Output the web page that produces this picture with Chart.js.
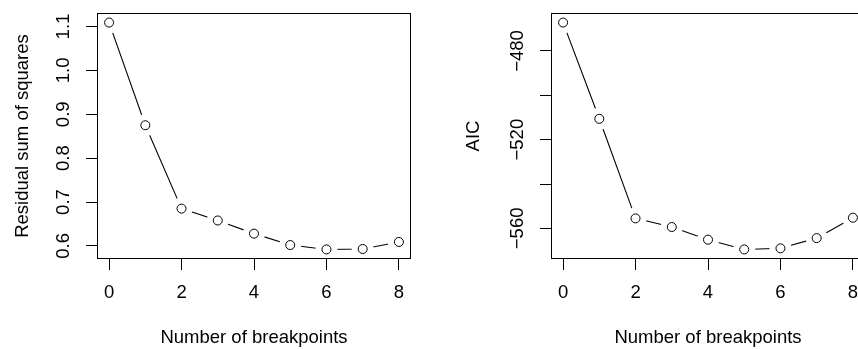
<!DOCTYPE html>
<html><head><meta charset="utf-8">
<script src="https://cdn.jsdelivr.net/npm/chart.js@4.4.1/dist/chart.umd.min.js"></script>
<style>
html,body{margin:0;padding:0;background:#fff;overflow:hidden;width:858px;height:349px}
.p{position:absolute;top:0}
</style></head><body>
<div class="p" style="left:0"><canvas id="c1" width="429" height="349"></canvas></div>
<div class="p" style="left:429px"><canvas id="c2" width="455" height="349"></canvas></div>
<script>
// ---- data ----
const breakpoints = [0, 1, 2, 3, 4, 5, 6, 7, 8];
const rss = [1.109, 0.875, 0.685, 0.658, 0.628, 0.602, 0.592, 0.593, 0.609];
const aic = [-467.2, -510.6, -555.5, -559.4, -565.1, -569.5, -569.0, -564.4, -555.2];
const xTicks = [0, 2, 4, 6, 8];
const rssTicks = [0.6, 0.7, 0.8, 0.9, 1.0, 1.1];
const rssTickLabels = ['0.6', '0.7', '0.8', '0.9', '1.0', '1.1'];
const aicTicks = [-560, -540, -520, -500, -480];
const aicTickLabels = ['\u2212560', '', '\u2212520', '', '\u2212480'];
const xTitle = 'Number of breakpoints';
const rssTitle = 'Residual sum of squares';
const aicTitle = 'AIC';

const FONT = '"Liberation Sans", Arial, Helvetica, sans-serif';
const FS = 18.5;

function rRange(vals) {
  const mn = Math.min(...vals), mx = Math.max(...vals), d = (mx - mn) * 0.04;
  return [mn - d, mx + d];
}

function makeChart(id, values, yTicks, yLabels, yTitle, geo) {
  const pts = breakpoints.map((x, i) => ({x: x, y: values[i]}));
  const [ymin, ymax] = rRange(values);
  const [xmin, xmax] = rRange(breakpoints);
  const framePlugin = {
    id: 'frame' + id,
    afterDraw(chart) {
      const {ctx, chartArea: a} = chart;
      ctx.save();
      ctx.strokeStyle = '#000';
      ctx.lineWidth = 1;
      ctx.strokeRect(a.left, a.top, a.right - a.left, a.bottom - a.top);
      const ys = chart.scales.y;
      ctx.font = FS + 'px ' + FONT;
      ctx.fillStyle = '#000';
      ctx.textAlign = 'center';
      ctx.textBaseline = 'middle';
      yTicks.forEach((v, i) => {
        const lab = yLabels[i];
        if (!lab) return;
        const py = ys.getPixelForValue(v);
        ctx.save();
        ctx.translate(geo.yLabelX, py);
        ctx.rotate(-Math.PI / 2);
        ctx.fillText(lab, 0, 0);
        ctx.restore();
      });
      ctx.restore();
    }
  };
  return new Chart(document.getElementById(id), {
    type: 'line',
    data: {
      datasets: [
        {data: pts, showLine: false, pointRadius: 4.5, pointHoverRadius: 4.5, pointBorderWidth: 1,
         pointBorderColor: '#000', pointBackgroundColor: '#fff'},
        {data: pts, showLine: false, pointRadius: 11, pointHoverRadius: 11, pointBorderWidth: 0,
         pointBorderColor: '#fff', pointBackgroundColor: '#fff'},
        {data: pts, borderColor: '#000', borderWidth: 1.1, pointRadius: 0, fill: false, tension: 0}
      ]
    },
    options: {
      responsive: false,
      animation: false,
      devicePixelRatio: 1,
      events: [],
      layout: {padding: {top: geo.top, right: geo.right, left: 0, bottom: 0}},
      plugins: {legend: {display: false}, tooltip: {enabled: false}},
      scales: {
        x: {
          type: 'linear', min: xmin, max: xmax,
          afterBuildTicks: s => { s.ticks = xTicks.map(v => ({value: v})); },
          afterFit: s => { s.height = geo.xHeight; },
          grid: {display: true, drawOnChartArea: false, drawTicks: true, tickLength: 11.5, color: '#000', lineWidth: 1},
          border: {display: false},
          ticks: {display: true, autoSkip: false, maxRotation: 0, minRotation: 0, padding: 12.2,
                  color: '#000', font: {family: FONT, size: FS},
                  callback: v => String(v)},
          title: {display: true, text: xTitle, color: '#000', font: {family: FONT, size: FS},
                  padding: {top: 0, bottom: 0}}
        },
        y: {
          type: 'linear', min: ymin, max: ymax,
          afterBuildTicks: s => { s.ticks = yTicks.map(v => ({value: v})); },
          afterFit: s => { s.width = geo.yWidth; },
          grid: {display: true, drawOnChartArea: false, drawTicks: true, tickLength: 11.5, color: '#000', lineWidth: 1},
          border: {display: false},
          ticks: {display: false},
          title: {display: true, text: yTitle, color: '#000', font: {family: FONT, size: FS},
                  padding: {top: geo.yTitlePad, bottom: 0}}
        }
      }
    },
    plugins: [framePlugin]
  });
}

makeChart('c1', rss, rssTicks, rssTickLabels, rssTitle,
  {top: 13.5, right: 18.5, xHeight: 90.5, yWidth: 97.5, yLabelX: 64.2, yTitlePad: 11.7});
makeChart('c2', aic, aicTicks, aicTickLabels, aicTitle,
  {top: 13.5, right: 19.5, xHeight: 90.5, yWidth: 122.5, yLabelX: 88.5, yTitlePad: 34});
</script>
</body></html>
